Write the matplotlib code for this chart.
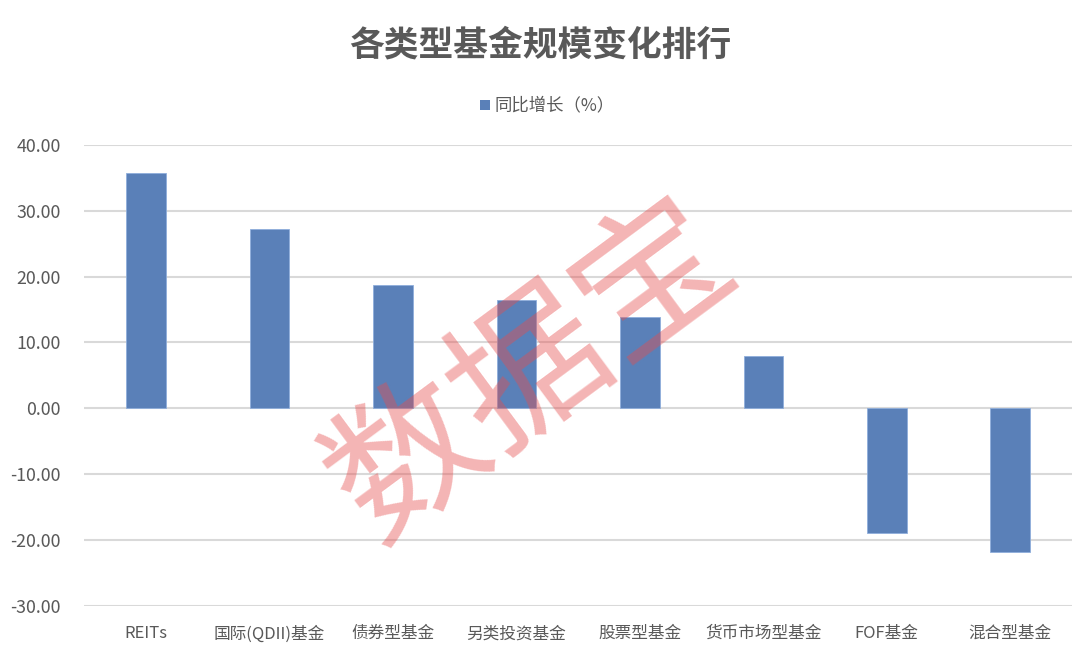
import matplotlib
matplotlib.use("Agg")
import matplotlib.pyplot as plt
from matplotlib.patches import Rectangle

plt.rcParams['font.family'] = ['Noto Sans CJK SC', 'DejaVu Sans']

categories = ['REITs', '国际(QDII)基金', '债券型基金', '另类投资基金', '股票型基金',
              '货币市场型基金', 'FOF基金', '混合型基金']
values = [35.7, 27.3, 18.7, 16.4, 13.85, 7.9, -18.9, -21.9]
yticks = [-30, -20, -10, 0, 10, 20, 30, 40]
title = '各类型基金规模变化排行'
series_name = '同比增长（%）'
watermark = '数据宝'

text_color = '#595959'
bar_color = '#5A80B8'

fig = plt.figure(figsize=(10.8, 6.57), dpi=100)
ax = fig.add_axes([0.0778, 0.0781, 0.9148, 0.7012])

x = list(range(len(categories)))
ax.bar(x, values, width=0.32, color=bar_color, edgecolor='#8FAEDB', linewidth=0.6, zorder=3)

ax.set_xlim(-0.5, len(categories) - 0.5)
ax.set_ylim(-30, 40)
ax.set_yticks(yticks)
ax.set_yticklabels([f'{v:.2f}' for v in yticks], fontsize=12.8, color=text_color)
ax.set_xticks(x)
ax.set_xticklabels(categories, fontsize=12, color=text_color)
ax.tick_params(axis='both', length=0)
ax.tick_params(axis='y', pad=16.5)
ax.tick_params(axis='x', pad=14)
ax.grid(axis='y', color='#D9D9D9', linewidth=1.5, zorder=0)
for s in ax.spines.values():
    s.set_visible(False)

fig.text(0.5, 1 - 45 / 657, title, ha='center', va='center', fontsize=25,
         fontweight='bold', color=text_color)

# legend
fig.patches.append(Rectangle((480 / 1080, 1 - 110 / 657), 10 / 1080, 10 / 657,
                             transform=fig.transFigure, facecolor=bar_color,
                             edgecolor='none'))
fig.text(494 / 1080, 1 - 105 / 657, series_name, ha='left', va='center',
         fontsize=12.5, color=text_color)

# watermark
fig.text(532 / 1080, 1 - 372 / 657, watermark, ha='center', va='center',
         fontsize=110, color=(0.9, 0.3, 0.3), alpha=0.42, rotation=36.5,
         zorder=10)

fig.savefig('out.png', dpi=100)
